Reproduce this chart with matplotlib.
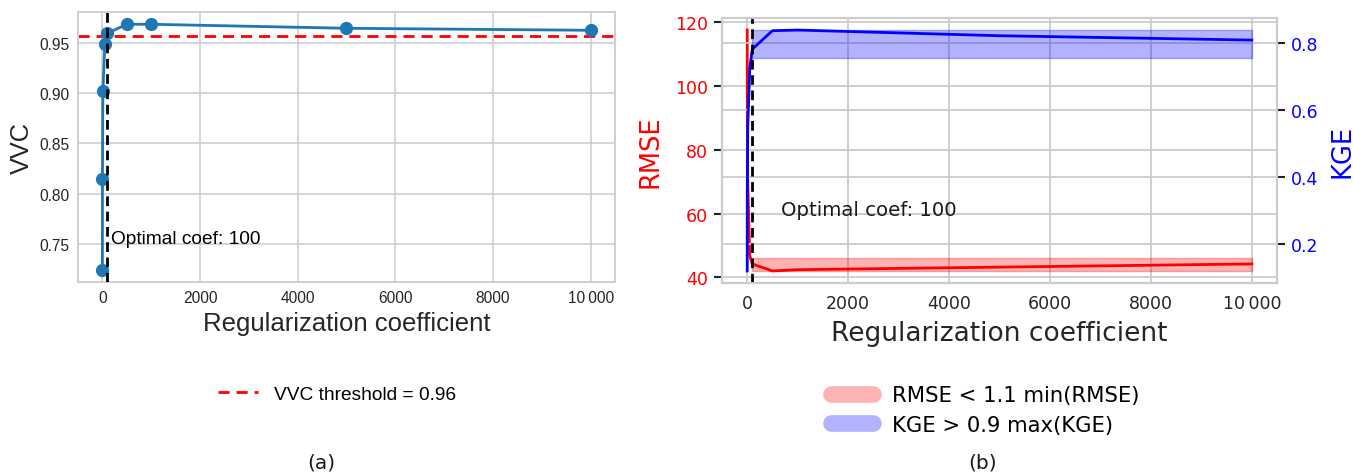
import matplotlib
matplotlib.use("Agg")
import matplotlib.pyplot as plt
from matplotlib.lines import Line2D
from matplotlib.ticker import FuncFormatter
import numpy as np

# regularization sweep
coefs = [0.1, 1, 10, 50, 100, 500, 1000, 5000, 10000]
vvc = [0.724, 0.815, 0.902, 0.949, 0.960, 0.969, 0.969, 0.965, 0.963]
rmse = [117.5, 95.0, 70.0, 46.8, 44.2, 42.0, 42.4, 43.2, 44.2]
kge = [0.12, 0.35, 0.55, 0.725, 0.783, 0.838, 0.840, 0.823, 0.810]
vvc_threshold = 0.957
optimal_coef = 100

arial = ["Liberation Sans", "DejaVu Sans"]
dejavu = ["DejaVu Sans"]
grid_col = "#cccccc"
txt_col = "#262626"


def thousands(v, pos):
    if abs(v) >= 10000:
        return f"{int(v):,}".replace(",", "\u2009")
    return f"{int(v)}"


fig = plt.figure(figsize=(13.53, 4.77), dpi=100)

# ---- (a) VVC ----
ax = fig.add_axes([78 / 1353, 1 - 283 / 477, 537 / 1353, 270 / 477])
ax.plot(coefs, vvc, "-o", color="#1f77b4", lw=2, ms=8.5, zorder=3)
ax.axhline(vvc_threshold, color="red", ls="--", lw=2, dashes=(4, 2.5),
           label=f"VVC threshold = {vvc_threshold:.2f}", zorder=2)
ax.axvline(optimal_coef, color="black", ls="--", lw=2, dashes=(3.5, 2), zorder=4)
ax.text(185, 0.755, f"Optimal coef: {optimal_coef}", fontsize=13.8,
        family=arial, color="black", va="center", ha="left")
ax.set_xlabel("Regularization coefficient", fontsize=18.5, family=arial, color=txt_col)
ax.set_ylabel("VVC", fontsize=18.3, family=arial, color=txt_col)
ax.xaxis.set_major_formatter(FuncFormatter(thousands))
ax.grid(True, color=grid_col, lw=1.1)
ax.set_axisbelow(True)
for s in ax.spines.values():
    s.set_color(grid_col)
    s.set_linewidth(1.3)
ax.tick_params(length=0, labelsize=11.2, labelcolor=txt_col, pad=6)
for lab in ax.get_xticklabels() + ax.get_yticklabels():
    lab.set_family(arial)
ax.legend(loc="center", bbox_to_anchor=(0.482, -0.415), frameon=False,
          prop={"family": arial, "size": 13.8}, handlelength=2.1, handletextpad=0.85)

# ---- (b) RMSE / KGE ----
ax1 = fig.add_axes([722 / 1353, 1 - 284 / 477, 555 / 1353, 265 / 477])
ax2 = ax1.twinx()

rmse_arr = np.array(rmse)
kge_arr = np.array(kge)
rmse_ok = rmse_arr < 1.1 * rmse_arr.min()
kge_ok = kge_arr > 0.9 * kge_arr.max()

ax1.plot(coefs, rmse, color="red", lw=2)
ax1.fill_between(coefs, rmse_arr.min(), 1.1 * rmse_arr.min(), where=rmse_ok,
                 color="red", alpha=0.3, lw=1)
ax2.plot(coefs, kge, color="blue", lw=2)
ax2.fill_between(coefs, 0.9 * kge_arr.max(), kge_arr.max(), where=kge_ok,
                 color="blue", alpha=0.3, lw=1)
ax2.axvline(optimal_coef, color="black", ls="--", lw=2, dashes=(3.5, 2))
ax1.text(675, 61.4, f"Optimal coef: {optimal_coef}", fontsize=14.2,
         family=dejavu, color="#1a1a1a", va="center", ha="left")

ax1.set_xlabel("Regularization coefficient", fontsize=19, color=txt_col, labelpad=6)
ax1.set_ylabel("RMSE", fontsize=18.5, color="red", labelpad=8)
ax2.set_ylabel("KGE", fontsize=18.5, color="blue", labelpad=8)
ax1.xaxis.set_major_formatter(FuncFormatter(thousands))
ax1.set_yticks([40, 60, 80, 100, 120])
ax2.set_yticks([0.2, 0.4, 0.6, 0.8])

for a in (ax1, ax2):
    a.grid(True, color=grid_col, lw=1.3)
    a.set_axisbelow(True)
    for s in a.spines.values():
        s.set_color(grid_col)
        s.set_linewidth(1.5)
ax1.tick_params(axis="x", length=0, labelsize=12.5, labelcolor=txt_col, pad=8)
ax1.tick_params(axis="y", length=6, width=1.5, color="#222222",
                labelsize=12.5, labelcolor="red", pad=4)
ax2.tick_params(axis="y", length=6, width=1.5, color="#222222",
                labelsize=12.5, labelcolor="blue", pad=4)

handles = [
    Line2D([], [], color="red", alpha=0.3, lw=12, solid_capstyle="round"),
    Line2D([], [], color="blue", alpha=0.3, lw=12, solid_capstyle="round"),
]
ax1.legend(handles, ["RMSE < 1.1 min(RMSE)", "KGE > 0.9 max(KGE)"],
           loc="center", bbox_to_anchor=(0.474, -0.479), frameon=False,
           fontsize=15.2, handlelength=2.0, handletextpad=0.9, labelspacing=0.45)

fig.text(321 / 1353, 1 - 463 / 477, "(a)", fontsize=14.5, ha="center", va="center",
         color="#1a1a1a")
fig.text(983 / 1353, 1 - 463 / 477, "(b)", fontsize=14.5, ha="center", va="center",
         color="#1a1a1a")

fig.savefig("out.png", dpi=100)
